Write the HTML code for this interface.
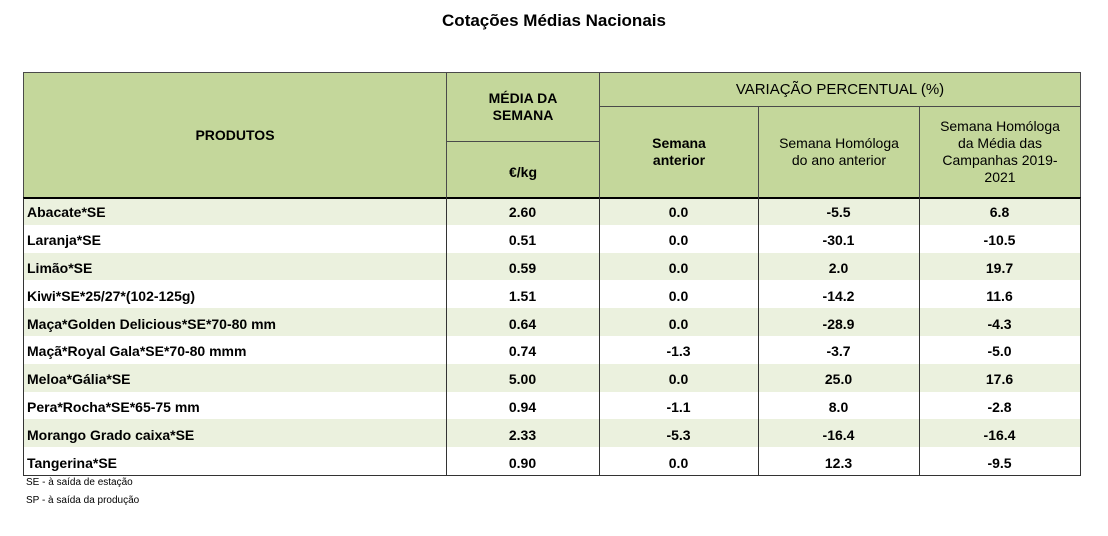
<!DOCTYPE html>
<html><head><meta charset="utf-8"><style>
body{margin:0;width:1108px;height:536px;background:#fff;font-family:"Liberation Sans",sans-serif;position:relative;overflow:hidden}
.t{position:absolute;left:0;width:1108px;top:11px;text-align:center;font-weight:bold;font-size:17px;color:#000}
.c{position:absolute;box-sizing:border-box;display:flex;align-items:center;justify-content:center;text-align:center;font-weight:bold;font-size:14px;color:#000;line-height:17px}
.h{background:#c4d79b;border:1px solid #4a4a4a}
.r{font-size:14px}
.fn{position:absolute;left:26px;font-size:10px;color:#000}
</style></head><body>
<div class="t">Cotações Médias Nacionais</div>
<div class="c h" style="left:23px;top:72px;width:424px;height:126px">PRODUTOS</div>
<div class="c h" style="left:446px;top:72px;width:154px;height:70px">MÉDIA DA<br>SEMANA</div>
<div class="c h" style="left:446px;top:141px;width:154px;height:57px;padding-top:6px">€/kg</div>
<div class="c h" style="left:599px;top:72px;width:482px;height:35px;font-weight:normal;font-size:15px">VARIAÇÃO PERCENTUAL (%)</div>
<div class="c h" style="left:599px;top:106px;width:160px;height:92px">Semana<br>anterior</div>
<div class="c h" style="left:758px;top:106px;width:162px;height:92px;font-weight:normal">Semana Homóloga<br>do ano anterior</div>
<div class="c h" style="left:919px;top:106px;width:162px;height:92px;font-weight:normal">Semana Homóloga<br>da Média das<br>Campanhas 2019-<br>2021</div>
<div id="rows"></div>
<div class="fn" style="top:477px">SE - à saída de estação</div>
<div class="fn" style="top:495px">SP - à saída da produção</div>
<script>
const products=["Abacate*SE","Laranja*SE","Limão*SE","Kiwi*SE*25/27*(102-125g)","Maça*Golden Delicious*SE*70-80 mm","Maçã*Royal Gala*SE*70-80 mmm","Meloa*Gália*SE","Pera*Rocha*SE*65-75 mm","Morango Grado caixa*SE","Tangerina*SE"];
const prices=["2.60","0.51","0.59","1.51","0.64","0.74","5.00","0.94","2.33","0.90"];
const prevWeek=["0.0","0.0","0.0","0.0","0.0","-1.3","0.0","-1.1","-5.3","0.0"];
const prevYear=["-5.5","-30.1","2.0","-14.2","-28.9","-3.7","25.0","8.0","-16.4","12.3"];
const campaigns=["6.8","-10.5","19.7","11.6","-4.3","-5.0","17.6","-2.8","-16.4","-9.5"];
const cont=document.getElementById('rows');
const top0=197,rh=27.8;
const cols=[[23,423],[446,153],[599,159],[758,161],[919,161]];
const names=['product-cell','price-cell','prev-week-cell','prev-year-cell','campaign-cell'];
const outer=document.createElement('div');


outer.style.cssText=`position:absolute;left:23px;top:${top0}px;width:1058px;height:${rh*products.length+1}px;box-sizing:border-box;border:1px solid #333;border-top:2px solid #000`;
products.forEach((p,i)=>{
  const bg=document.createElement('div');
  
  
  bg.style.cssText=`position:absolute;left:23px;top:${top0+i*rh}px;width:1058px;height:${rh}px;background:${i%2==0?'#ebf1de':'#fff'}`;
  cont.appendChild(bg);
  const vals=[p,prices[i],prevWeek[i],prevYear[i],campaigns[i]];
  vals.forEach((v,j)=>{
    const d=document.createElement('div');
    d.className='c r';
    
    
    d.style.cssText=`left:${cols[j][0]}px;top:${top0+i*rh+2}px;width:${cols[j][1]}px;height:${rh}px;`+(j==0?'justify-content:flex-start;padding-left:4px;':'');
    d.textContent=v;
    cont.appendChild(d);
  });
});
cont.appendChild(outer);
[446,599,758,919].forEach(x=>{
  const l=document.createElement('div');
  
  
  l.style.cssText=`position:absolute;left:${x}px;top:${top0}px;width:1px;height:${rh*products.length}px;background:#333`;
  cont.appendChild(l);
});
</script>
</body></html>
